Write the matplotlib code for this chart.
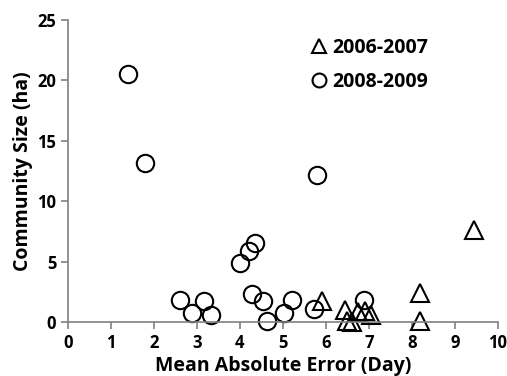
import numpy as np
import matplotlib
matplotlib.use('Agg')
import matplotlib.pyplot as plt

plt.rcParams['font.family'] = ['Open Sans', 'DejaVu Sans']

# 2006-2007 (triangles)
tri_x = [5.9, 6.45, 6.5, 6.6, 6.75, 6.9, 7.05, 8.2, 8.2, 9.45]
tri_y = [1.7, 1.0, 0.1, 0.0, 0.8, 0.9, 0.6, 2.4, 0.1, 7.6]

# 2008-2009 (circles)
circ_x = [1.4, 1.8, 5.8, 4.0, 4.22, 4.35, 2.6, 2.88, 3.16, 3.33,
          4.27, 4.53, 4.64, 5.02, 5.2, 5.72, 6.89]
circ_y = [20.5, 13.2, 12.2, 4.85, 5.85, 6.55, 1.85, 0.72, 1.74, 0.6,
          2.3, 1.7, 0.1, 0.75, 1.8, 1.05, 1.8]

xticks = list(range(0, 11))
yticks = [0, 5, 10, 15, 20, 25]

fig = plt.figure(figsize=(5.07, 3.76), dpi=100)
ax = fig.add_axes([0.134, 0.1436, 0.848, 0.8034])

ax.plot(tri_x, tri_y, linestyle='none', marker='^', ms=13, mfc='none',
        mec='black', mew=1.5, label='2006-2007', clip_on=False)
ax.plot(circ_x, circ_y, linestyle='none', marker='o', ms=12.5, mfc='none',
        mec='black', mew=1.5, label='2008-2009', clip_on=False)

ax.set_xlim(0, 10)
ax.set_ylim(0, 25)
ax.set_xticks(xticks)
ax.set_yticks(yticks)
for s in ['top', 'right']:
    ax.spines[s].set_visible(False)
for s in ['left', 'bottom']:
    ax.spines[s].set_color('#808080')
    ax.spines[s].set_linewidth(1.2)
ax.tick_params(colors='#808080', labelcolor='black', length=5, width=1.2,
               labelsize=12)
for lab in ax.get_xticklabels() + ax.get_yticklabels():
    lab.set_fontweight('bold')

ax.set_xlabel('Mean Absolute Error (Day)', fontsize=14, fontweight='bold', labelpad=3)
ax.set_ylabel('Community Size (ha)', fontsize=14, fontweight='bold', labelpad=3)

leg = ax.legend(loc='upper left', bbox_to_anchor=(0.524, 0.998), frameon=False,
                markerscale=0.8, handlelength=0.8, handletextpad=0.3,
                labelspacing=0.72, prop={'weight': 'bold', 'size': 14})

fig.savefig('out.png', dpi=100)
